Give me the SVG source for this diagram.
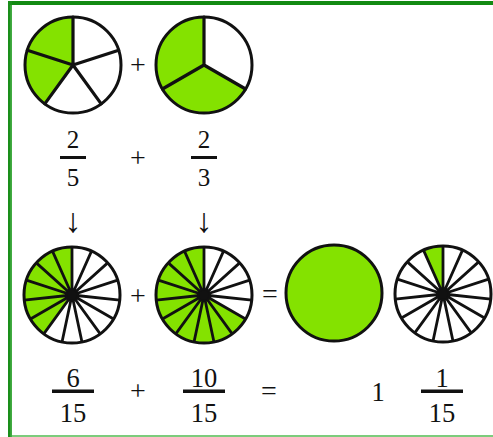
<svg xmlns="http://www.w3.org/2000/svg" width="493" height="437" viewBox="0 0 493 437">
<style>
.rim{fill:none;stroke:#111;stroke-width:3}
.bg{fill:#fff}
.g{fill:#84e200}
.sp{fill:none;stroke:#111;stroke-width:3.2;stroke-linecap:round}
.sp15{fill:none;stroke:#111;stroke-width:2.8}
.hub{fill:#111}
.lbl{font-family:'Liberation Serif',serif;fill:#111;text-anchor:middle}
.n{font-size:25px}
.n2{font-size:26.5px}
.op{font-size:28px}
.ar{font-size:34px}
.bar{fill:#111}
</style>

<g id="frame">
<rect x="0" y="0" width="493" height="437" fill="#fff"/>
<rect x="8" y="1" width="485" height="4" fill="#128a12"/>
<rect x="8" y="1" width="4" height="436" fill="#1a8e1a"/>
<rect x="10.5" y="5" width="1.2" height="432" fill="#55b855"/>
<rect x="12" y="435" width="481" height="2" fill="#7ccc7c"/>
</g>

<g id="pie-2-5" transform="translate(73,65)">
<circle class="bg" r="48"/>
<path class="g" d="M0,0L-28.21,38.83A48,48 0 0 1 0,-48Z"/>
<path class="sp" d="M0,0L0,-48M0,0L45.65,-14.83M0,0L28.21,38.83M0,0L-28.21,38.83M0,0L-45.65,-14.83"/>
<circle class="rim" r="48"/>
</g>
<g id="pie-2-3" transform="translate(204,65)">
<circle class="bg" r="48"/>
<path class="g" d="M0,0L41.57,24A48,48 0 1 1 0,-48Z"/>
<path class="sp" d="M0,0L0,-48M0,0L41.57,24M0,0L-41.57,24"/>
<circle class="rim" r="48"/>
</g>
<g id="pie-6-15" transform="translate(72,295)">
<circle class="bg" r="48"/>
<path class="g" d="M0,0L-28.21,38.83A48,48 0 0 1 0,-48Z"/>
<path class="sp15" d="M0,0L0,-48M0,0L19.52,-43.85M0,0L35.67,-32.12M0,0L45.65,-14.83M0,0L47.74,5.02M0,0L41.57,24M0,0L28.21,38.83M0,0L9.98,46.95M0,0L-9.98,46.95M0,0L-28.21,38.83M0,0L-41.57,24M0,0L-47.74,5.02M0,0L-45.65,-14.83M0,0L-35.67,-32.12M0,0L-19.52,-43.85"/>
<circle class="hub" r="5"/>
<circle class="rim" r="48"/>
</g>
<g id="pie-10-15" transform="translate(204,295)">
<circle class="bg" r="48"/>
<path class="g" d="M0,0L41.57,24A48,48 0 1 1 0,-48Z"/>
<path class="sp15" d="M0,0L0,-48M0,0L19.52,-43.85M0,0L35.67,-32.12M0,0L45.65,-14.83M0,0L47.74,5.02M0,0L41.57,24M0,0L28.21,38.83M0,0L9.98,46.95M0,0L-9.98,46.95M0,0L-28.21,38.83M0,0L-41.57,24M0,0L-47.74,5.02M0,0L-45.65,-14.83M0,0L-35.67,-32.12M0,0L-19.52,-43.85"/>
<circle class="hub" r="5"/>
<circle class="rim" r="48"/>
</g>
<g id="pie-whole" transform="translate(334,293)">
<circle class="g" r="48"/>
<circle class="rim" r="48"/>
</g>
<g id="pie-1-15" transform="translate(443,294)">
<circle class="bg" r="48"/>
<path class="g" d="M0,0L-19.52,-43.85A48,48 0 0 1 0,-48Z"/>
<path class="sp15" d="M0,0L0,-48M0,0L19.52,-43.85M0,0L35.67,-32.12M0,0L45.65,-14.83M0,0L47.74,5.02M0,0L41.57,24M0,0L28.21,38.83M0,0L9.98,46.95M0,0L-9.98,46.95M0,0L-28.21,38.83M0,0L-41.57,24M0,0L-47.74,5.02M0,0L-45.65,-14.83M0,0L-35.67,-32.12M0,0L-19.52,-43.85"/>
<circle class="hub" r="5"/>
<circle class="rim" r="48"/>
</g>

<text class="lbl op" x="138" y="74">+</text>
<text class="lbl op" x="138" y="305">+</text>
<text class="lbl op" x="270" y="303">=</text>

<g id="frac-2-5">
<text class="lbl n" x="73" y="148">2</text>
<rect class="bar" x="60" y="156" width="26" height="3"/>
<text class="lbl n" x="73" y="186">5</text>
</g>
<text class="lbl op" x="138" y="167">+</text>
<g id="frac-2-3">
<text class="lbl n" x="204" y="148">2</text>
<rect class="bar" x="191" y="156" width="26" height="3"/>
<text class="lbl n" x="204" y="186">3</text>
</g>

<text class="lbl ar" x="73" y="232">↓</text>
<text class="lbl ar" x="204" y="232">↓</text>

<g id="frac-6-15">
<text class="lbl n2" x="73" y="387">6</text>
<rect class="bar" x="52" y="389.5" width="42" height="3.5"/>
<text class="lbl n2" x="73" y="421.5">15</text>
</g>
<text class="lbl op" x="138" y="400">+</text>
<g id="frac-10-15">
<text class="lbl n2" x="204" y="387">10</text>
<rect class="bar" x="183" y="389.5" width="42" height="3.5"/>
<text class="lbl n2" x="204" y="421.5">15</text>
</g>
<text class="lbl op" x="269" y="400">=</text>
<g id="mixed-1-1-15">
<text class="lbl n2" x="378" y="401">1</text>
<text class="lbl n2" x="442" y="387">1</text>
<rect class="bar" x="421" y="389.5" width="42" height="3.5"/>
<text class="lbl n2" x="442" y="421.5">15</text>
</g>
</svg>
